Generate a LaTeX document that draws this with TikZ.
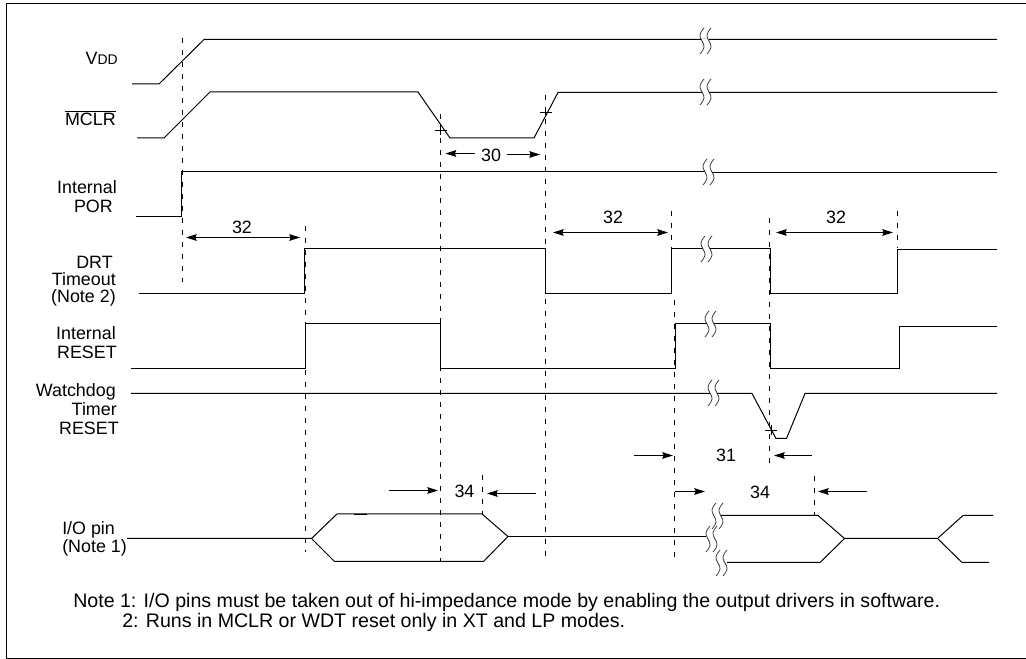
\documentclass[tikz,border=0pt]{standalone}
\usepackage{fontspec}
\setmainfont{Liberation Sans}
\usepackage{tikz}
\usetikzlibrary{arrows.meta}
\newcommand{\labelfont}{\fontsize{13.4}{15}\selectfont}
\newcommand{\notefont}{\fontsize{14.7}{17}\selectfont}

\begin{document}
\begin{tikzpicture}[x=0.75pt,y=-0.75pt]
            \tikzset{
                sig/.style={black, line width=0.75pt, line join=miter},
                guide/.style={black, line width=0.7pt, dash pattern=on 3.4pt off 5.6pt},
                dimarrow/.style={black, line width=0.7pt, -{Stealth[length=8pt,width=5pt,inset=1pt]}},
                dimboth/.style={black, line width=0.7pt, {Stealth[length=8pt,width=5pt,inset=1pt]}-{Stealth[length=8pt,width=5pt,inset=1pt]}},
                siglabel/.style={anchor=base east, inner sep=0pt, font=\labelfont},
                dimlabel/.style={inner sep=0pt, font=\labelfont},
                iolabel/.style={anchor=base west, inner sep=0pt, font=\labelfont},
                notelabel/.style={anchor=base west, inner sep=0pt, font=\notefont},
                breakmark/.pic={
                    \fill[white] (0,-1.6) rectangle (7,1.6);
                    \foreach \xo in {0,7} {
                        \draw[black!80, line width=0.55pt]
                            (\xo+2,-13) .. controls (\xo-3,-7) and (\xo-3,-5) .. (\xo,0)
                            .. controls (\xo+3,5) and (\xo+3,7) .. (\xo-2,13);
                    }
                }
            }

            \useasboundingbox (0,0) rectangle (1026,659);
            \draw[sig] (1026,3.5) -- (6.5,3.5) -- (6.5,658.5) -- (1026,658.5);

            % guides
            \foreach \x/\ya/\yb in {182.5/38/282, 305.5/226/552, 440.5/114/562, 545.5/95/562,
                    671.5/211/248, 674.5/300/558, 769.5/218/465, 897.5/211/248,
                    482.5/475/514, 814.5/476/515} {
                \draw[guide] (\x,\ya) -- (\x,\yb);
            }

            % signals
            \draw[sig] (132,84) -- (159,84) -- (204,39.5) -- (997,39.5);
            \draw[sig] (137,138) -- (164,138) -- (210,92) -- (418,92) -- (450,138)
                -- (534,138) -- (558,92.5) -- (997,92.5);
            \draw[sig] (136,216.5) -- (181.5,216.5) -- (181.5,172) -- (705,172);
            \draw[sig] (705,172.5) -- (997,172.5);
            \draw[sig] (139,293.5) -- (304.5,293.5) -- (304.5,248.5) -- (545.5,248.5)
                -- (545.5,293.5) -- (671.5,293.5) -- (671.5,248.5) -- (770.5,248.5)
                -- (770.5,293.5) -- (897.5,293.5) -- (897.5,249.5) -- (997,249.5);
            \draw[sig] (131,368.5) -- (305.5,368.5) -- (305.5,323.5) -- (440.5,323.5)
                -- (440.5,368.5) -- (675.5,368.5) -- (675.5,323.5) -- (770.5,323.5)
                -- (770.5,368.5) -- (899.5,368.5) -- (899.5,326.5) -- (997,326.5);
            \draw[sig] (131,393.5) -- (752,393.5) -- (776,438.5) -- (786.5,438.5)
                -- (805,393.5) -- (997,393.5);

            % I/O pin
            \draw[sig] (127,538.5) -- (311.5,538.5) -- (337,514) -- (482,514) -- (508,536.5)
                -- (483.5,561.5) -- (334.5,561.5) -- (311.5,538.5);
            \draw[sig] (354,514.5) -- (367,514.5);
            \draw[sig] (508,536.5) -- (706,536.5);
            \draw[sig] (720,515.5) -- (818,515.5) -- (844.5,538.5) -- (820,562.5) -- (727,562.5);
            \draw[sig] (844.5,538.5) -- (937.5,538.5) -- (963,515.5) -- (993,515.5);
            \draw[sig] (937.5,538.5) -- (962,562.5) -- (989,562.5);

            % crossing ticks
            \foreach \x/\y in {440.5/130, 545.5/112, 771/430} {
                \draw[black, line width=0.6pt] (\x-6,\y) -- (\x+6,\y);
                \draw[black, line width=0.6pt] (\x,\y-5) -- (\x,\y+5);
            }

            % line breaks
            \foreach \x/\y in {702/41, 702/92, 705/172, 703/249, 707/324, 710/393,
                    714/516, 708/539, 718/563} {
                \pic at (\x,\y) {breakmark};
            }

            % time spans
            \draw[dimboth] (186,237.5) -- (300,237.5);
            \node[dimlabel] (spanA) at (242,227) {32};
            \draw[dimboth] (553,232.5) -- (668,232.5);
            \node[dimlabel] (spanB) at (613,217) {32};
            \draw[dimboth] (776,232.5) -- (893,232.5);
            \node[dimlabel] (spanC) at (836,217) {32};

            \node[dimlabel] (spanD) at (491,155) {30};
            \draw[dimarrow] (475,153.5) -- (445.5,153.5);
            \draw[dimarrow] (507,154.5) -- (540,154.5);

            \node[dimlabel] (spanE) at (726,455.5) {31};
            \draw[dimarrow] (634,455.5) -- (673,455.5);
            \draw[dimarrow] (812,455.5) -- (774,455.5);

            \node[dimlabel] (spanF) at (464.5,491) {34};
            \draw[dimarrow] (389,490.5) -- (438,490.5);
            \draw[dimarrow] (536,493.5) -- (487,493.5);

            \node[dimlabel] (spanG) at (760,492) {34};
            \draw[dimarrow] (675,491.5) -- (705,491.5);
            \draw[dimarrow] (867,491.5) -- (818,491.5);

            % signal names
            \node[siglabel] (vdd) at (118,65) {V{\fontsize{10.5}{11}\selectfont DD}};
            \node[siglabel] (mclr) at (116,126) {$\overline{\mbox{MCLR}}$};
            \node[siglabel] (porA) at (117,194) {Internal};
            \node[siglabel] (porB) at (113,213) {POR};
            \node[siglabel] (drtA) at (113,269) {DRT};
            \node[siglabel] (drtB) at (116,286) {Timeout};
            \node[siglabel] (drtC) at (116,303) {(Note 2)};
            \node[siglabel] (rstA) at (116,340) {Internal};
            \node[siglabel] (rstB) at (117,359) {RESET};
            \node[siglabel] (wdtA) at (116,397) {Watchdog};
            \node[siglabel] (wdtB) at (117,416) {Timer};
            \node[siglabel] (wdtC) at (119,435) {RESET};
            \node[iolabel] (ioA) at (62,535) {I/O pin};
            \node[iolabel] (ioB) at (62,553) {(Note 1)};

            \node[notelabel] (noteA) at (73,608) {Note 1: I/O pins must be taken out of hi-impedance mode by enabling the output drivers in software.};
            \node[notelabel] (noteB) at (122,628) {2: Runs in MCLR or WDT reset only in XT and LP modes.};
        \end{tikzpicture}
\end{document}
